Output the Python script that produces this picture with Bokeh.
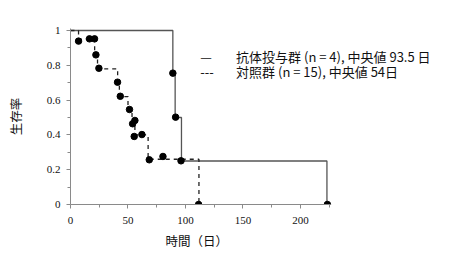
from bokeh.plotting import figure
from bokeh.models import Range1d, FixedTicker, CustomJSTickFormatter, Label, Title
from bokeh.embed import file_html
from bokeh.resources import INLINE

# --- data ---
# Antibody group (n = 4): Kaplan-Meier step curve
ab_step_t = [0, 89, 91, 96.5, 223]
ab_step_s = [1.0, 0.75, 0.5, 0.25, 0.0]
ab_pts_t = [89, 91.4, 96.1, 223.4]
ab_pts_s = [0.755, 0.502, 0.251, 0.0]

# Control group (n = 15)
ctl_step_t = [0, 7, 21, 23.5, 41, 42.5, 50, 53.5, 56, 67.5, 111.7]
ctl_step_s = [1.0, 0.95, 0.86, 0.78, 0.70, 0.62, 0.55, 0.47, 0.40, 0.26, 0.0]
ctl_pts_t = [7.0, 16.5, 20.9, 22.1, 24.7, 40.9, 43.3, 51.3, 54.0, 56.0, 55.4, 62.1, 68.5, 80.4, 111.4]
ctl_pts_s = [0.939, 0.952, 0.952, 0.860, 0.783, 0.703, 0.622, 0.546, 0.464, 0.483, 0.391, 0.402, 0.257, 0.276, 0.0]

x_ticks = [0, 50, 100, 150, 200]
x_minor = [25, 75, 125, 175, 225]
x_axis_end = 226
y_ticks = [0, 0.2, 0.4, 0.6, 0.8, 1]
y_minor = [0.1, 0.3, 0.5, 0.7, 0.9]

legend_symbols = ["—", "---"]
legend_texts = ["抗体投与群 (n = 4), 中央値 93.5 日", "対照群 (n = 15), 中央値 54日"]
legend_y = [0.853, 0.764]

x_label = "時間（日）"
y_label = "生存率"

# frame spans to the right edge so the legend text is not clipped
p = figure(width=455, height=274, output_backend="svg", toolbar_location=None,
           x_range=Range1d(0, 334.8), y_range=Range1d(0, 1.0115),
           min_border_left=70, min_border_right=0, min_border_top=28, min_border_bottom=70)
p.outline_line_color = None
p.grid.visible = False
p.background_fill_color = "white"
p.border_fill_color = "white"

p.step(ab_step_t, ab_step_s, mode="after", line_color="#555555", line_width=1.3)
p.step(ctl_step_t, ctl_step_s, mode="after", line_color="#222222", line_width=1.3, line_dash="4 4")
p.scatter(ctl_pts_t, ctl_pts_s, size=6.5, color="black")
p.scatter(ab_pts_t, ab_pts_s, size=6.5, color="black")

tick_font = "'Liberation Serif'"
for ax in (p.xaxis[0], p.yaxis[0]):
    ax.axis_line_color = "#8a8a8a"
    ax.major_tick_line_color = "#8a8a8a"
    ax.minor_tick_line_color = "#8a8a8a"
    ax.major_tick_in = 0
    ax.minor_tick_in = 0
    ax.major_tick_out = 4
    ax.minor_tick_out = 3
    ax.major_label_text_font = tick_font
    ax.major_label_text_font_size = "11px"
    ax.major_label_text_color = "#111111"
    ax.axis_label_text_font = "Noto Sans CJK JP"
    ax.axis_label_text_font_size = "12.5px"
    ax.axis_label_text_font_style = "normal"
    ax.axis_label_text_color = "#111111"
    ax.formatter = CustomJSTickFormatter(code="return String(tick);")

p.xaxis[0].bounds = (0, x_axis_end)
p.xaxis[0].ticker = FixedTicker(ticks=x_ticks, minor_ticks=x_minor)
p.yaxis[0].ticker = FixedTicker(ticks=y_ticks, minor_ticks=y_minor)
p.xaxis[0].major_label_standoff = 8
p.yaxis[0].major_label_standoff = 6
p.yaxis[0].axis_label = y_label
p.yaxis[0].axis_label_standoff = 19

# x-axis label centred under the drawn axis extent (not the wide frame)
p.add_layout(Title(text=x_label, align="left", offset=95, standoff=4,
                   text_font="Noto Sans CJK JP", text_font_size="12.5px",
                   text_font_style="normal", text_color="#111111"), "below")

for sym, txt, yy in zip(legend_symbols, legend_texts, legend_y):
    p.add_layout(Label(x=112.8, y=yy, text=sym, text_font="Noto Sans CJK JP",
                       text_font_size="13px", text_baseline="middle", text_color="#111111"))
    p.add_layout(Label(x=144, y=yy, text=txt, text_font="Noto Sans CJK JP",
                       text_font_size="13px", text_baseline="middle", text_color="#111111"))

open("out.html", "w").write(file_html(p, INLINE))
